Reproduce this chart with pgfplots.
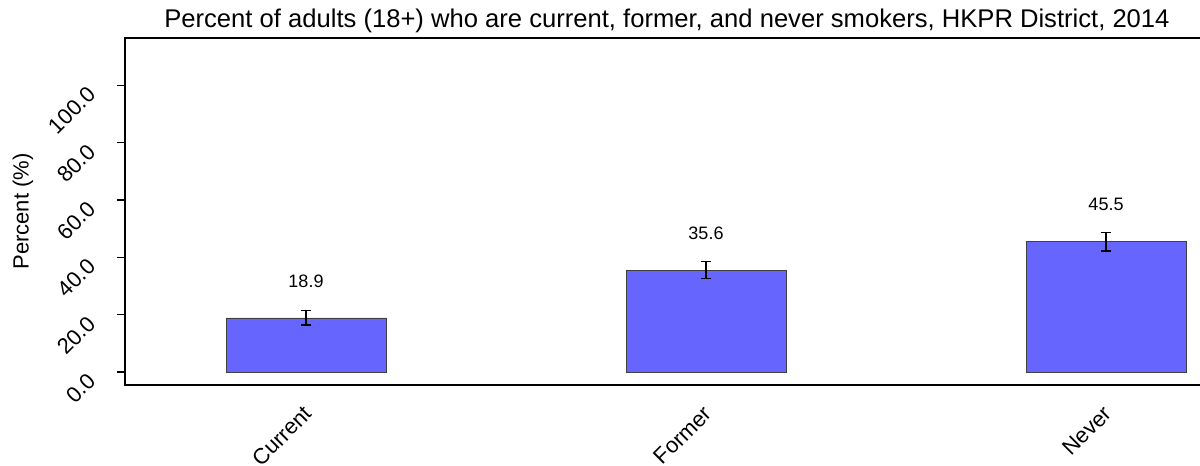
\documentclass[border=0pt]{standalone}
\usepackage{fontspec}
\setmainfont{Liberation Sans}
\usepackage{pgfplots}
\pgfplotsset{compat=1.18}
\definecolor{barblue}{HTML}{6666FF}
\newcommand{\mainfs}{\fontsize{16.5}{19.8}\selectfont}
\newcommand{\titlefs}{\fontsize{19.2}{23}\selectfont}
\newcommand{\valfs}{\fontsize{13.5}{16}\selectfont}
\begin{document}
\begin{tikzpicture}
\begin{axis}[
  at={(93.75pt,60.75pt)}, anchor=south west,
  scale only axis, width=871.5pt, height=260.25pt,
  xmin=-0.4525, xmax=2.4525, ymin=-4.48, ymax=116.48,
  ybar,
  axis line style={line width=1.6pt},
  xtick={0,1,2}, xticklabels={Current,Former,Never},
  x tick style={draw=none},
  ytick={0,20,40,60,80,100},
  yticklabels={0.0,20.0,40.0,60.0,80.0,100.0},
  y tick style={line width=1.1pt, black},
  tick align=outside, major tick length=6pt,
  ytick pos=left, xtick pos=bottom,
  yticklabel style={font=\mainfs, xshift=-19pt, yshift=-4pt, rotate=45, anchor=east, inner sep=0pt},
  xticklabel style={font=\mainfs, xshift=1.5pt, yshift=-12.6pt, rotate=45, anchor=east, inner sep=0pt},
  ylabel={Percent (\%)},
  ylabel style={font=\mainfs, at={(axis description cs:-0.0878,0.5)}, anchor=center},
  title={Percent of adults (18+) who are current, former, and never smokers, HKPR District, 2014},
  title style={font=\titlefs, at={(axis description cs:0.4664,1.0288)}, anchor=base, inner sep=0pt, yshift=-6pt},
]
\addplot[ybar, bar width=0.4, fill=barblue, draw=black!75, line width=0.6pt,
  nodes near coords={\pgfmathprintnumber[fixed,precision=1,fixed zerofill,assume math mode=true]{\pgfplotspointmeta}},
  nodes near coords style={font=\valfs, anchor=center, yshift=27.75pt, black},
  error bars/.cd, y dir=both, y explicit,
  error mark=|,
  error bar style={line width=1.1pt, black},
  error mark options={line width=1.1pt, mark size=4.1pt, black}]
  coordinates {(0,18.9) +- (0,2.5) (1,35.6) +- (0,3.0) (2,45.5) +- (0,3.2)};
\end{axis}
\pgfresetboundingbox
\useasboundingbox (0,0) rectangle (900pt,349.5pt);
\end{tikzpicture}
\end{document}
